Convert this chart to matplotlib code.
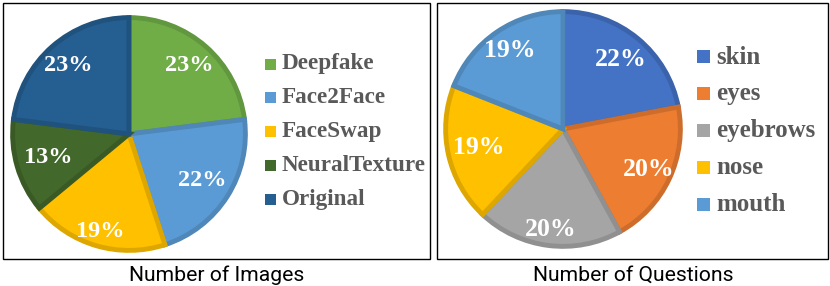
import numpy as np
import matplotlib
matplotlib.use("Agg")
import matplotlib.pyplot as plt
from matplotlib.patches import Rectangle
from matplotlib.colors import to_rgb

W, H = 830, 286

img_labels = ["Deepfake", "Face2Face", "FaceSwap", "NeuralTexture", "Original"]
img_values = [23, 22, 19, 13, 23]
img_colors = ["#70AD47", "#5B9BD5", "#FFC000", "#43682B", "#255E91"]

q_labels = ["skin", "eyes", "eyebrows", "nose", "mouth"]
q_values = [22, 20, 20, 19, 19]
q_colors = ["#4472C4", "#ED7D31", "#A5A5A5", "#FFC000", "#5B9BD5"]

# excel "best fit" puts the % labels at slightly different radii
img_label_r = [0.76, 0.72, 0.85, 0.70, 0.76]
q_label_r = [0.75, 0.78, 0.84, 0.71, 0.78]

serif = "Liberation Serif"


def px(x, y, w, h):
    # pixel box (top-left origin) -> figure fraction
    return [x / W, (H - y - h) / H, w / W, h / H]


def darker(c, f=0.87):
    return tuple(v * f for v in to_rgb(c))


def draw_pie(fig, box, values, colors, label_r, pct_size):
    ax = fig.add_axes(px(*box))
    wedges, _ = ax.pie(
        values, colors=colors, startangle=90, counterclock=False,
        radius=0.97, wedgeprops=dict(linewidth=3.5))
    for w, c, v, r in zip(wedges, colors, values, label_r):
        w.set_edgecolor(darker(c))
        mid = np.deg2rad((w.theta1 + w.theta2) / 2)
        ax.text(r * np.cos(mid), r * np.sin(mid), f"{v}%", color="white",
                fontfamily=serif, fontweight="bold", fontsize=pct_size,
                ha="center", va="center")
    ax.set_xlim(-1.0, 1.0)
    ax.set_ylim(-1.0, 1.0)
    ax.set_aspect("equal")
    ax.axis("off")
    return ax


def draw_legend(fig, x, y0, step, labels, colors, sq, size):
    for i, (lab, c) in enumerate(zip(labels, colors)):
        y = y0 + i * step
        fig.patches.append(Rectangle((x / W, (H - y - sq / 2) / H), sq / W, sq / H,
                                     facecolor=c, edgecolor="none",
                                     transform=fig.transFigure))
        fig.text((x + sq + 6) / W, (H - y) / H, lab, color="#595959",
                 fontfamily=serif, fontweight="bold", fontsize=size,
                 va="center", ha="left")


fig = plt.figure(figsize=(W / 100, H / 100), dpi=100)

# frames
for (x0, y0, x1, y1) in [(3, 3, 430, 259), (437, 3, 828, 259)]:
    fig.patches.append(Rectangle((x0 / W, (H - y1) / H), (x1 - x0) / W, (y1 - y0) / H,
                                 facecolor="none", edgecolor="black", linewidth=1,
                                 transform=fig.transFigure))

draw_pie(fig, (9, 14, 240, 240), img_values, img_colors, img_label_r, 17.5)
draw_pie(fig, (442, 8, 242, 242), q_values, q_colors, q_label_r, 18.5)

draw_legend(fig, 265, 64, 33.8, img_labels, img_colors, 11, 16.7)
draw_legend(fig, 697, 57, 36.8, q_labels, q_colors, 13, 18)

fig.text(217 / W, (H - 275) / H, "Number of Images", fontfamily="Roboto",
         fontsize=15.2, ha="center", va="center", color="black")
fig.text(633 / W, (H - 275) / H, "Number of Questions", fontfamily="Roboto",
         fontsize=15.2, ha="center", va="center", color="black")

fig.savefig("out.png", dpi=100)
